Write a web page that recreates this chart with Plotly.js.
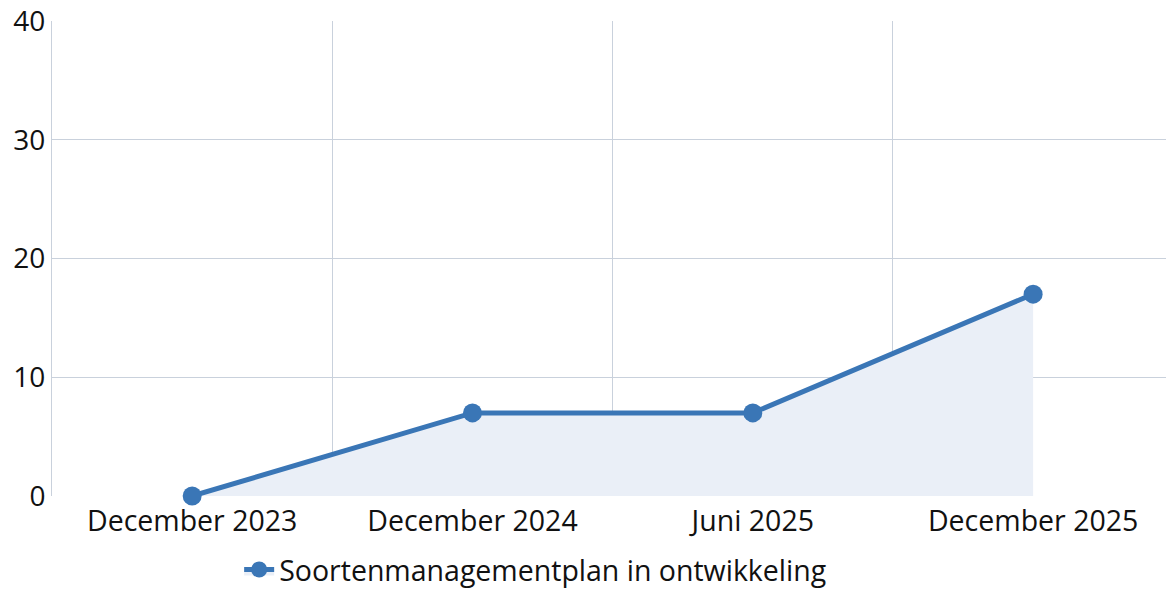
<!DOCTYPE html>
<html><head><meta charset="utf-8">
<script src="https://cdn.plot.ly/plotly-3.0.1.min.js"></script>
<style>html,body{margin:0;padding:0;background:#fff}#chart{width:1166px;height:589px}</style>
</head><body><div id="chart"></div>
<script>
const categories = ["December 2023", "December 2024", "Juni 2025", "December 2025"];
const values = [0, 7, 7, 17];
const seriesName = "Soortenmanagementplan in ontwikkeling";
const yTicks = [0, 10, 20, 30, 40];

const trace = {
  x: categories, y: values, name: seriesName,
  type: "scatter", mode: "lines+markers",
  fill: "tozeroy", fillcolor: "#eaeff7",
  line: {color: "#3a76b6", width: 5},
  marker: {color: "#3a76b6", size: 19},
  cliponaxis: false
};
const layout = {
  width: 1166, height: 589,
  margin: {l: 52, r: 0, t: 21, b: 93, autoexpand: false},
  paper_bgcolor: "#fff", plot_bgcolor: "#fff",
  font: {family: "Open Sans, Noto Sans, sans-serif", size: 28, color: "#111"},
  xaxis: {type: "category", range: [-0.5, 3.474], tickson: "boundaries",
    showgrid: true, gridcolor: "#c9d1dc", gridwidth: 1, ticks: "", ticklen: 0,
    ticklabelstandoff: 5, tickfont: {size: 28.5},
    showline: false, zeroline: false, fixedrange: true, automargin: false},
  yaxis: {range: [0, 40], tickvals: yTicks, showgrid: true, gridcolor: "#c9d1dc",
    showline: true, linecolor: "#c9d1dc", zeroline: false, ticks: "", ticklen: 0,
    tickfont: {size: 28}, fixedrange: true, automargin: false},
  showlegend: true,
  legend: {orientation: "h", x: 0.168, xanchor: "left", y: -0.102, yanchor: "top",
    font: {size: 28.5}, bgcolor: "rgba(0,0,0,0)"}
};
Plotly.newPlot("chart", [trace], layout, {displayModeBar: false, staticPlot: true});
</script></body></html>
